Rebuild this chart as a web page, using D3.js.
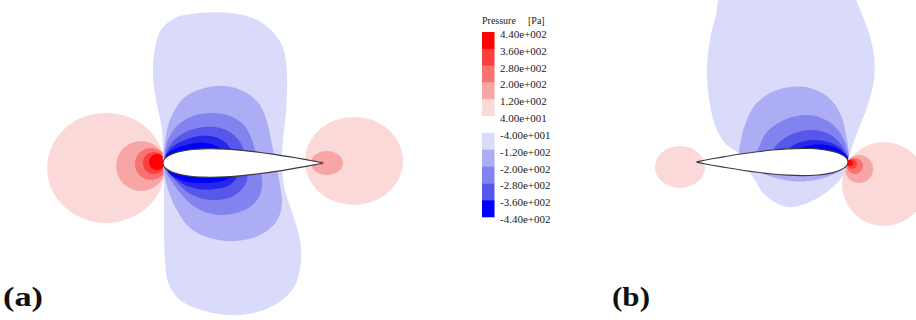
<!DOCTYPE html>
<html>
<head>
<meta charset="utf-8">
<script src="https://cdn.jsdelivr.net/npm/d3@7"></script>
<style>
  body { margin: 0; background: #fff; }
  svg { display: block; }
</style>
</head>
<body>
<div id="chart"></div>
<script>
// legend levels (Pa) and band colours, top of legend to bottom
const legendValues = [440, 360, 280, 200, 120, 40, -40, -120, -200, -280, -360, -440]
const bandColors = ['#ff0000', '#fb3f3f', '#f97272', '#f8a5a5', '#fbd9d9', '#ffffff',
                    '#dadafa', '#adadf5', '#8383f0', '#5757ea', '#2626ec']
// colours past the ends of the legend (strongest suction / stagnation)
const overColors = ['#0000ff', '#ff0000']

// NACA 0018 half thickness, % chord
const foilX = [0, 0.5, 1.25, 2.5, 5, 7.5, 10, 15, 20, 25, 30, 40, 50, 60, 70, 80, 90, 95, 100]
const foilT = [0, 1.83, 2.841, 3.922, 5.332, 6.3, 7.024, 8.018, 8.606, 8.912, 9.003, 8.705, 7.927, 6.8, 5.423, 3.838, 2.1, 1.156, 0.189]

// contour outlines, in % chord from leading edge (y up)
// value = a pressure inside the region
const contoursA = [
  { value: -80, pts: [[0,0],[-0.6,20.8],[-4.4,39.6],[-6.3,55.3],[-5.0,72.3],[-1.3,83.6],[7.5,91.2],[23.3,94.3],[42.1,94.3],[57.9,90.6],[68.6,83.0],[75.5,72.3],[78.0,55.3],[77.4,33.3],[75.5,14.5],[74.8,0],[76.7,-17.0],[81.8,-32.7],[86.2,-48.4],[86.8,-62.3],[82.4,-78.0],[70.4,-89.3],[48.4,-95.6],[26.4,-93.1],[10.7,-86.2],[3.1,-74.8],[1.3,-61.0],[0.6,-42.1],[0.6,-23.3],[0.6,-10.7]] },
  { value: -160, pts: [[0.6,0],[1.9,17.6],[5.7,30.2],[13.8,41.5],[26.4,47.2],[39.0,48.4],[51.6,44.7],[61.0,36.5],[66.0,23.9],[68.6,11.3],[71.1,0],[73.6,-13.8],[74.8,-26.4],[71.1,-37.1],[61.0,-45.3],[45.3,-49.1],[29.6,-47.2],[17.0,-40.9],[9.4,-30.8],[4.4,-20.1],[1.3,-9.4]] },
  { value: -240, pts: [[0.6,1.9],[3.1,14.5],[9.4,23.9],[18.9,29.6],[30.8,31.4],[42.1,29.6],[50.3,24.5],[55.3,16.4],[57.9,8.2],[59.7,0],[62.3,-10.7],[61.0,-20.1],[54.7,-27.7],[43.4,-32.1],[30.8,-32.1],[20.1,-27.7],[11.9,-20.1],[5.7,-11.9],[1.3,-4.4]] },
  { value: -320, pts: [[1.3,3.1],[4.4,11.3],[11.9,18.2],[22.0,22.0],[32.7,22.6],[42.1,19.5],[48.4,13.2],[51.6,5.0],[53.5,-4.4],[51.6,-13.8],[45.3,-20.1],[34.6,-23.3],[23.3,-22.0],[14.5,-17.6],[7.5,-10.7],[2.5,-4.4]] },
  { value: -400, pts: [[1.3,3.8],[5.7,10.1],[13.8,14.5],[23.3,17.0],[32.7,16.4],[39.6,12.6],[43.4,6.9],[45.9,-1.3],[46.5,-8.2],[42.1,-13.8],[32.7,-16.4],[22.0,-16.4],[12.6,-13.2],[5.7,-8.2],[1.9,-3.1]] },
  { value: -480, pts: [[1.9,4.4],[7.5,8.8],[17.0,11.9],[26.4,12.6],[34.6,10.1],[39.0,5.0],[42.1,-1.3],[43.4,-7.5],[37.1,-11.3],[26.4,-12.6],[15.7,-11.9],[7.5,-8.8],[2.5,-4.4]] }
]
const blobsA = [
  { value: 80, cx: -35.8, cy: -3.1, rx: 37.1, ry: 34.6 },
  { value: 160, cx: -13.8, cy: -1.9, rx: 15.7, ry: 15.7 },
  { value: 240, cx: -7.5, cy: -0.6, rx: 10.1, ry: 10.1 },
  { value: 320, cx: -5.7, cy: 0, rx: 6.9, ry: 6.9 },
  { value: 400, cx: -3.8, cy: 0.6, rx: 5.0, ry: 5.0 },
  { value: 80, cx: 120.1, cy: 1.3, rx: 30.8, ry: 27.7 },
  { value: 160, cx: 103.1, cy: 0, rx: 10.1, ry: 7.5 },
  { value: 240, cx: 100, cy: 0, rx: 1.3, ry: 1.3 }
]

const contoursB = [
  { value: -80, pts: [[0,1.3],[-6.0,19.2],[-13.2,37.7],[-17.2,54.3],[-17.2,70.9],[-13.2,87.4],[-6.6,104.0],[-2.6,112.6],[38.4,125.8],[83.4,112.6],[87.4,97.4],[91.4,80.8],[93.4,60.9],[91.4,37.7],[87.4,22.5],[81.5,12.6],[71.5,4.6],[64.9,-6.6],[60.9,-13.2],[55.0,-21.9],[40.4,-29.8],[25.2,-26.5],[9.9,-16.6],[2.0,-6.6]] },
  { value: -160, pts: [[0,1.3],[1.3,17.9],[5.3,32.5],[13.2,43.0],[25.2,49.0],[38.4,49.7],[51.7,45.7],[61.6,37.7],[67.5,26.5],[70.9,14.6],[71.5,4.6],[58.3,-6.6],[38.4,-12.6],[21.9,-11.9],[6.6,-6.6]] },
  { value: -240, pts: [[0,1.3],[3.3,15.9],[10.6,25.2],[21.9,30.5],[33.8,30.5],[45.0,26.5],[53.6,19.9],[58.3,11.3],[60.3,4.6],[38.4,-2.6],[8.6,-2.6]] },
  { value: -320, pts: [[0,1.3],[5.3,12.6],[13.9,19.2],[23.8,21.2],[35.1,19.2],[43.7,14.6],[49.0,7.9],[31.8,0],[6.6,-1.3]] },
  { value: -400, pts: [[0,1.3],[5.3,9.3],[13.2,13.2],[23.2,14.6],[33.1,12.6],[40.4,7.9],[43.0,2.6],[21.9,-0.7],[5.3,-0.7]] },
  { value: -480, pts: [[0,2.6],[6.6,8.6],[15.2,11.3],[23.8,11.3],[33.1,8.6],[39.1,4.6],[21.9,0],[5.3,0]] }
]
const blobsB = [
  { value: 80, cx: 111.3, cy: -3.3, rx: 16.6, ry: 13.9 },
  { value: 80, cx: -23.8, cy: -14.6, rx: 27.8, ry: 27.8 },
  { value: 160, cx: -7.3, cy: -4.6, rx: 9.3, ry: 9.3 },
  { value: 240, cx: -4.6, cy: -2.6, rx: 5.3, ry: 5.3 },
  { value: 320, cx: -2.6, cy: -1.3, rx: 3.3, ry: 3.3 },
  { value: 400, cx: -1.3, cy: -0.7, rx: 2.0, ry: 2.0 }
]

const width = 916
const height = 320
const serif = 'Liberation Serif'

const svg = d3.select('#chart').append('svg')
  .attr('width', width)
  .attr('height', height)

// pressure -> colour, same bands as the legend plus the two ends
const color = d3.scaleThreshold()
  .domain(legendValues.slice().reverse())
  .range([overColors[0]].concat(bandColors.slice().reverse(), [overColors[1]]))

function drawPanel(x, y, contours, blobs, label, labelX, labelLen) {
  let g = svg.append('g')
  let sx = (v) => Math.abs(x(v) - x(0))
  let sy = (v) => Math.abs(y(v) - y(0))

  g.selectAll('ellipse')
    .data(blobs)
    .enter()
    .append('ellipse')
    .attr('cx', d => x(d.cx))
    .attr('cy', d => y(d.cy))
    .attr('rx', d => sx(d.rx))
    .attr('ry', d => sy(d.ry))
    .attr('fill', d => color(d.value))

  let outline = d3.line()
    .x(d => x(d[0]))
    .y(d => y(d[1]))
    .curve(d3.curveCatmullRomClosed.alpha(0.5))

  g.selectAll('path.band')
    .data(contours)
    .enter()
    .append('path')
    .attr('class', 'band')
    .attr('d', d => outline(d.pts))
    .attr('fill', d => color(d.value))

  // airfoil: upper surface TE -> LE, lower surface LE -> TE
  let upper = foilX.map((v, i) => [v, foilT[i]]).reverse()
  let lower = foilX.map((v, i) => [v, -foilT[i]]).slice(1)
  let foil = d3.line()
    .x(d => x(d[0]))
    .y(d => y(d[1]))
    .curve(d3.curveCatmullRom)

  g.append('path')
    .attr('d', foil(upper.concat(lower)) + 'Z')
    .attr('fill', '#fff')
    .attr('stroke', '#3a3a3a')
    .attr('stroke-width', 1.1)

  g.append('text')
    .attr('x', labelX)
    .attr('y', 306)
    .attr('font-family', serif)
    .attr('font-size', 27)
    .attr('font-weight', 'bold')
    .attr('fill', '#111')
    .attr('textLength', labelLen)
    .attr('lengthAdjust', 'spacingAndGlyphs')
    .text(label)
}

// panel (a): flow left to right
let xA = d3.scaleLinear().domain([0, 100]).range([163, 322])
let yA = d3.scaleLinear().domain([0, 100]).range([163, 4])
drawPanel(xA, yA, contoursA, blobsA, '(a)', 3, 40)

// panel (b): flow right to left
let xB = d3.scaleLinear().domain([0, 100]).range([848, 697])
let yB = d3.scaleLinear().domain([0, 100]).range([162, 11])
drawPanel(xB, yB, contoursB, blobsB, '(b)', 612, 38)

// legend
let legend = svg.append('g')
let ly = d3.scaleLinear().domain([440, -440]).range([32, 217])

function sci(v) {
  let parts = d3.format('.2e')(Math.abs(v)).split('e')
  let e = +parts[1]
  return (v < 0 ? '-' : '') + parts[0] + 'e' + (e < 0 ? '-' : '+') + String(Math.abs(e)).padStart(3, '0')
}

legend.selectAll('rect')
  .data(bandColors)
  .enter()
  .append('rect')
  .attr('x', 482)
  .attr('y', (d, i) => ly(legendValues[i]))
  .attr('width', 12.5)
  .attr('height', (d, i) => ly(legendValues[i + 1]) - ly(legendValues[i]) + 0.3)
  .attr('fill', (d, i) => i === bandColors.length - 1 ? overColors[0] : d)

legend.selectAll('text.tick')
  .data(legendValues)
  .enter()
  .append('text')
  .attr('class', 'tick')
  .attr('x', 500)
  .attr('y', d => ly(d) + 6)
  .attr('font-family', serif)
  .attr('font-size', 11)
  .attr('fill', '#1a1a1a')
  .text(d => sci(d))

legend.append('text')
  .attr('x', 482)
  .attr('y', 24)
  .attr('font-family', serif)
  .attr('font-size', 10)
  .attr('fill', '#1a1a1a')
  .text('Pressure')
legend.append('text')
  .attr('x', 528)
  .attr('y', 24)
  .attr('font-family', serif)
  .attr('font-size', 10)
  .attr('fill', '#1a1a1a')
  .text('[Pa]')
</script>
</body>
</html>
